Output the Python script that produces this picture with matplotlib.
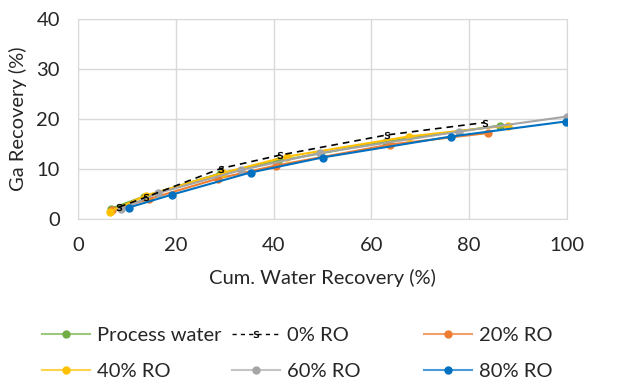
import matplotlib
matplotlib.use('Agg')
import matplotlib.pyplot as plt
from matplotlib.lines import Line2D

plt.rcParams['font.family'] = ['Lato', 'DejaVu Sans']

# Cumulative water recovery (%) and Ga recovery (%) per series
pw_x = [6.8, 13.5, 29.0, 41.0, 63.0, 86.4]
pw_y = [2.1, 4.5, 9.1, 11.6, 15.5, 18.7]

ro0_x = [8.4, 14.0, 29.2, 41.4, 63.1, 83.2]
ro0_y = [2.4, 4.4, 10.1, 12.8, 16.8, 19.3]

ro20_x = [7.0, 14.5, 28.7, 40.5, 63.9, 83.9]
ro20_y = [1.8, 4.0, 8.1, 10.7, 14.9, 17.2]

ro40_x = [6.5, 13.9, 29.6, 42.8, 67.6, 88.0]
ro40_y = [1.5, 4.7, 9.2, 12.5, 16.5, 18.7]

ro60_x = [8.8, 16.4, 33.4, 49.5, 78.0, 100.0]
ro60_y = [2.0, 5.2, 9.8, 13.2, 17.5, 20.5]

ro80_x = [10.4, 19.3, 35.3, 50.0, 76.3, 99.7]
ro80_y = [2.3, 4.9, 9.3, 12.3, 16.5, 19.5]

x_ticks = [0, 20, 40, 60, 80, 100]
y_ticks = [0, 10, 20, 30, 40]

fig = plt.figure(figsize=(6.39, 3.86), dpi=100)
ax = fig.add_axes([78 / 639, 1 - 219 / 386, 489 / 639, 200 / 386])

grid_c = '#d9d9d9'
txt_c = '#262626'
fs = 14.5

# (label, x, y, line colour, legend line tint)
series = [
    ('Process water', pw_x, pw_y, '#70AD47', '#9DC97F'),
    ('20% RO', ro20_x, ro20_y, '#ED7D31', '#F2A06A'),
    ('40% RO', ro40_x, ro40_y, '#FFC000', '#FFD24D'),
    ('60% RO', ro60_x, ro60_y, '#A5A5A5', '#C4C4C4'),
    ('80% RO', ro80_x, ro80_y, '#0070C0', '#4A9AD8'),
]

handles = {}
for lab, xs, ys, c, tint in series:
    ax.plot(xs, ys, '-o', color=c, lw=1.5, ms=5, zorder=3)
    handles[lab] = Line2D([], [], color=tint, lw=1.5, marker='o', ms=5,
                          markerfacecolor=c, markeredgecolor=c)

# 0% RO: dashed black with small squiggle markers
sq = r'$\mathsf{s}$'
ax.plot(ro0_x, ro0_y, color='black', lw=1.2, dashes=(4, 3),
        marker=sq, ms=5, markeredgewidth=0.2, zorder=4)
handles['0% RO'] = Line2D([], [], color='black', lw=1.0, dashes=(3, 3),
                          marker=sq, ms=5, markeredgewidth=0.2)

ax.set_xlim(0, 100)
ax.set_ylim(0, 40)
ax.set_xticks(x_ticks)
ax.set_yticks(y_ticks)
ax.grid(True, color=grid_c, lw=1)
ax.set_axisbelow(True)
for s in ax.spines.values():
    s.set_color(grid_c)
ax.tick_params(length=0, labelsize=fs, colors=txt_c, pad=13)

ax.set_xlabel('Cum. Water Recovery (%)', fontsize=fs, color=txt_c, labelpad=11)
ax.set_ylabel('Ga Recovery (%)', fontsize=fs, color=txt_c, labelpad=7)

# Legend laid out like Excel: three evenly spaced columns, two rows
cols = [['Process water', '40% RO'], ['0% RO', '60% RO'], ['20% RO', '80% RO']]
col_x = [42 / 639, 232 / 639, 424 / 639]
for labs, x0 in zip(cols, col_x):
    fig.legend(handles=[handles[l] for l in labs], labels=labs, loc='upper left',
               bbox_to_anchor=(x0, 1 - 327 / 386), frameon=False, fontsize=fs,
               handlelength=2.4, handletextpad=0.35, borderpad=0, borderaxespad=0,
               labelspacing=0.95, labelcolor=txt_c)

fig.savefig('out.png', dpi=100, facecolor='white')
